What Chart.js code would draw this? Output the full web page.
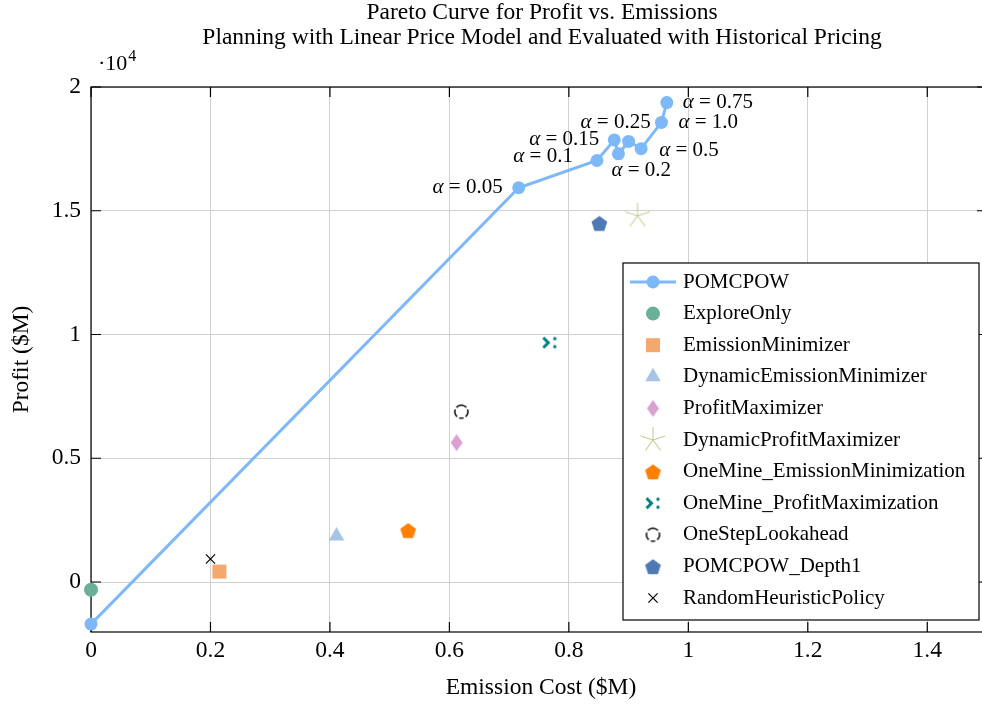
<!DOCTYPE html>
<html lang="en">
<head>
<meta charset="UTF-8">
<title>Pareto Curve for Profit vs. Emissions</title>
<script src="https://cdn.jsdelivr.net/npm/chart.js"></script>
<style>
  html, body { margin: 0; padding: 0; overflow: hidden; background: #fff; }
</style>
</head>
<body>
<canvas id="paretoChart" width="1000" height="704"></canvas>
<script>
// ---- data ----
const pomcpowX = [0, 0.716, 0.847, 0.876, 0.883, 0.900, 0.921, 0.955, 0.964];
const pomcpowY = [-1700, 15930, 17030, 17860, 17300, 17800, 17510, 18570, 19370];
const alphaValues = [null, '0.05', '0.1', '0.15', '0.2', '0.25', '0.5', '1.0', '0.75'];

const baselineNames = ['ExploreOnly', 'EmissionMinimizer', 'DynamicEmissionMinimizer', 'ProfitMaximizer',
  'DynamicProfitMaximizer', 'OneMine_EmissionMinimization', 'OneMine_ProfitMaximization',
  'OneStepLookahead', 'POMCPOW_Depth1', 'RandomHeuristicPolicy'];
const baselineX = [0, 0.215, 0.411, 0.612, 0.915, 0.531, 0.768, 0.620, 0.851, 0.200];
const baselineY = [-310, 420, 1860, 5630, 14800, 2090, 9670, 6880, 14500, 930];

const xTicks = [0, 0.2, 0.4, 0.6, 0.8, 1, 1.2, 1.4];
const yTicks = [0, 5000, 10000, 15000, 20000];
const yTickScale = 10000;

// ---- styling ----
const FONT = "'Liberation Serif', 'Times New Roman', serif";
const BIG = 23.5;   // titles, axis labels, ticks
const SMALL = 21;   // legend, alpha labels
const lineBlue = '#7db8f9';

// label placement around each pomcpow point: [align, dx, dy]
const alphaAnchors = [null, ['right', -16, 0], ['right', -24, -4], ['right', -15, 0], ['left', -7, 17],
  ['center', -13, -19], ['left', 18, 2], ['left', 17, 0], ['left', 16, 0]];

function marker(size, draw) {
  const c = document.createElement('canvas');
  c.width = size; c.height = size;
  draw(c.getContext('2d'), size / 2);
  return c;
}
function pentagon(color, r) {
  return marker(Math.ceil(r * 2 + 4), (g, c) => {
    g.fillStyle = color;
    g.beginPath();
    for (let k = 0; k < 5; k++) {
      const a = -Math.PI / 2 + k * 2 * Math.PI / 5;
      g.lineTo(c + r * Math.cos(a), c + 1 + r * Math.sin(a));
    }
    g.closePath();
    g.fill();
  });
}
function asterisk5(color, r) {
  return marker(Math.ceil(r * 2 + 4), (g, c) => {
    g.strokeStyle = color;
    g.lineWidth = 1.1;
    g.beginPath();
    for (let k = 0; k < 5; k++) {
      const a = -Math.PI / 2 + k * 2 * Math.PI / 5;
      g.moveTo(c, c);
      g.lineTo(c + r * Math.cos(a), c + r * Math.sin(a));
    }
    g.stroke();
  });
}
function diamond(color, hw, hh) {
  return marker(Math.ceil(hh * 2 + 2), (g, c) => {
    g.fillStyle = color;
    g.beginPath();
    g.moveTo(c, c - hh); g.lineTo(c + hw, c); g.lineTo(c, c + hh); g.lineTo(c - hw, c);
    g.closePath();
    g.fill();
  });
}
function chevronColon(color) {
  return marker(20, (g, c) => {
    g.strokeStyle = color;
    g.fillStyle = color;
    g.lineWidth = 3;
    g.beginPath();
    g.moveTo(c - 6.5, c - 5); g.lineTo(c - 1.5, c); g.lineTo(c - 6.5, c + 5);
    g.stroke();
    g.beginPath(); g.arc(c + 5, c - 4, 1.7, 0, 2 * Math.PI); g.fill();
    g.beginPath(); g.arc(c + 5, c + 4, 1.7, 0, 2 * Math.PI); g.fill();
  });
}
function dashedCircle(color, r) {
  // four arcs with small gaps, degrees
  const arcs = [[-140, -40], [-20, 50], [70, 110], [130, 200]];
  return marker(Math.ceil(r * 2 + 6), (g, c) => {
    g.strokeStyle = color;
    g.lineWidth = 1.5;
    arcs.forEach(([a0, a1]) => {
      g.beginPath();
      g.arc(c, c, r, a0 * Math.PI / 180, a1 * Math.PI / 180);
      g.stroke();
    });
  });
}

const baselineStyles = [
  { color: '#6aaf97', pointStyle: 'circle', radius: 7 },
  { color: '#f4a86d', pointStyle: 'rect', radius: 9.9 },
  { color: '#a6c4e6', pointStyle: 'triangle', radius: 9 },
  { color: '#d9a1d2', pointStyle: diamond('#d9a1d2', 6, 8.5), radius: 8 },
  { color: '#c3cf8f', pointStyle: asterisk5('#c3cf8f', 13), radius: 13 },
  { color: '#ff7f00', pointStyle: pentagon('#ff7f00', 8.3), radius: 8 },
  { color: '#008080', pointStyle: chevronColon('#008080'), radius: 8 },
  { color: '#000000', pointStyle: dashedCircle('#000000', 6.5), radius: 7 },
  { color: '#4e79b5', pointStyle: pentagon('#4e79b5', 8.3), radius: 8 },
  { color: '#000000', pointStyle: 'crossRot', radius: 6.5, line: true }
];

const datasets = [{
  label: 'POMCPOW',
  data: pomcpowX.map((x, i) => ({ x: x, y: pomcpowY[i] })),
  showLine: true,
  borderColor: lineBlue,
  backgroundColor: lineBlue,
  borderWidth: 3,
  pointRadius: 6.5,
  pointBorderWidth: 0,
  pointBackgroundColor: lineBlue,
  clip: false
}];
baselineNames.forEach((name, i) => {
  const st = baselineStyles[i];
  datasets.push({
    label: name,
    data: [{ x: baselineX[i], y: baselineY[i] }],
    pointStyle: st.pointStyle,
    pointRadius: st.radius,
    pointBackgroundColor: st.color,
    pointBorderColor: st.color,
    pointBorderWidth: st.line ? 1.2 : 0,
    showLine: false,
    clip: false
  });
});

const framePlugin = {
  id: 'frame',
  beforeDatasetsDraw(chart) {
    const { ctx, chartArea: a, scales } = chart;
    ctx.save();
    ctx.strokeStyle = '#000';
    ctx.lineWidth = 1.2;
    ctx.strokeRect(a.left, a.top, a.right - a.left, a.bottom - a.top);
    ctx.beginPath();
    xTicks.forEach(v => {
      const px = scales.x.getPixelForValue(v);
      ctx.moveTo(px, a.bottom); ctx.lineTo(px, a.bottom - 10);
      ctx.moveTo(px, a.top); ctx.lineTo(px, a.top + 10);
    });
    yTicks.forEach(v => {
      const py = scales.y.getPixelForValue(v);
      ctx.moveTo(a.left, py); ctx.lineTo(a.left + 10, py);
      ctx.moveTo(a.right, py); ctx.lineTo(a.right - 10, py);
    });
    ctx.stroke();
    ctx.restore();
  },
  afterDraw(chart) {
    const { ctx, chartArea: a, scales } = chart;
    ctx.save();
    ctx.fillStyle = '#000';
    ctx.textBaseline = 'middle';
    // titles
    ctx.font = BIG + 'px ' + FONT;
    ctx.textAlign = 'center';
    ctx.fillText('Pareto Curve for Profit vs. Emissions', 542, 13);
    ctx.fillText('Planning with Linear Price Model and Evaluated with Historical Pricing', 542, 38);
    ctx.fillText('Emission Cost ($M)', (a.left + 991) / 2, 688);
    ctx.save();
    ctx.translate(22, (a.top + a.bottom) / 2);
    ctx.rotate(-Math.PI / 2);
    ctx.fillText('Profit ($M)', 0, 0);
    ctx.restore();
    // axis multiplier
    ctx.textAlign = 'left';
    ctx.textBaseline = 'alphabetic';
    ctx.font = '22px ' + FONT;
    ctx.fillText('\u00b710', 98, 70);
    const w10 = ctx.measureText('\u00b710').width;
    ctx.font = '16px ' + FONT;
    ctx.fillText('4', 98 + w10 + 1, 61);

    // alpha labels
    ctx.textBaseline = 'middle';
    alphaValues.forEach((val, i) => {
      if (!val) return;
      const [align, dx, dy] = alphaAnchors[i];
      const px = scales.x.getPixelForValue(pomcpowX[i]);
      const py = scales.y.getPixelForValue(pomcpowY[i]);
      const rest = ' = ' + val;
      ctx.font = 'italic ' + SMALL + 'px ' + FONT;
      const wa = ctx.measureText('\u03b1').width;
      ctx.font = SMALL + 'px ' + FONT;
      const wr = ctx.measureText(rest).width;
      const total = wa + wr;
      let x0 = px + dx;
      if (align === 'right') x0 -= total;
      if (align === 'center') x0 -= total / 2;
      const y0 = py + dy;
      ctx.textAlign = 'left';
      ctx.font = 'italic ' + SMALL + 'px ' + FONT;
      ctx.fillText('\u03b1', x0, y0);
      ctx.font = SMALL + 'px ' + FONT;
      ctx.fillText(rest, x0 + wa, y0);
    });

    // legend
    const lx = 623, ly = 263, lw = 356, lh = 357;
    ctx.fillStyle = '#fff';
    ctx.fillRect(lx, ly, lw, lh);
    ctx.strokeStyle = '#000';
    ctx.lineWidth = 1.2;
    ctx.strokeRect(lx, ly, lw, lh);
    const rowH = 31.6;
    chart.data.datasets.forEach((ds, i) => {
      const y = ly + 19 + i * rowH;
      const mx = 653;
      if (i === 0) {
        ctx.strokeStyle = lineBlue;
        ctx.lineWidth = 3;
        ctx.beginPath(); ctx.moveTo(630, y); ctx.lineTo(676, y); ctx.stroke();
        ctx.fillStyle = lineBlue;
        ctx.beginPath(); ctx.arc(mx, y, 6.5, 0, 2 * Math.PI); ctx.fill();
      } else {
        const st = baselineStyles[i - 1];
        ctx.fillStyle = st.color;
        ctx.strokeStyle = st.color;
        ctx.lineWidth = st.line ? 1.2 : 0;
        Chart.helpers.drawPoint(ctx, {
          pointStyle: st.pointStyle,
          radius: st.radius,
          rotation: 0,
          borderWidth: st.line ? 1.2 : 0
        }, mx, y);
      }
      ctx.fillStyle = '#000';
      ctx.font = SMALL + 'px ' + FONT;
      ctx.textAlign = 'left';
      ctx.textBaseline = 'middle';
      ctx.fillText(ds.label, 683, y);
    });
    ctx.restore();
  }
};

new Chart(document.getElementById('paretoChart'), {
  type: 'scatter',
  data: { datasets: datasets },
  options: {
    responsive: false,
    animation: false,
    layout: { padding: { top: 87, right: 9, bottom: 0, left: 0 } },
    plugins: { legend: { display: false }, title: { display: false }, tooltip: { enabled: false } },
    scales: {
      x: {
        type: 'linear',
        min: 0,
        max: 1.5,
        afterBuildTicks: s => { s.ticks = xTicks.map(v => ({ value: v })); },
        afterFit: s => { s.height = 72; },
        ticks: {
          autoSkip: false,
          maxRotation: 0,
          padding: 5,
          color: '#000',
          font: { family: FONT, size: BIG },
          callback: v => String(v)
        },
        grid: { color: '#d0d0d0', lineWidth: 1, drawTicks: false },
        border: { display: false }
      },
      y: {
        type: 'linear',
        min: -2020,
        max: 20000,
        afterBuildTicks: s => { s.ticks = yTicks.map(v => ({ value: v })); },
        afterFit: s => { s.width = 91; },
        ticks: {
          autoSkip: false,
          padding: 10,
          color: '#000',
          font: { family: FONT, size: BIG },
          callback: v => String(v / yTickScale)
        },
        grid: { color: '#d0d0d0', lineWidth: 1, drawTicks: false },
        border: { display: false }
      }
    }
  },
  plugins: [framePlugin]
});
</script>
</body>
</html>
